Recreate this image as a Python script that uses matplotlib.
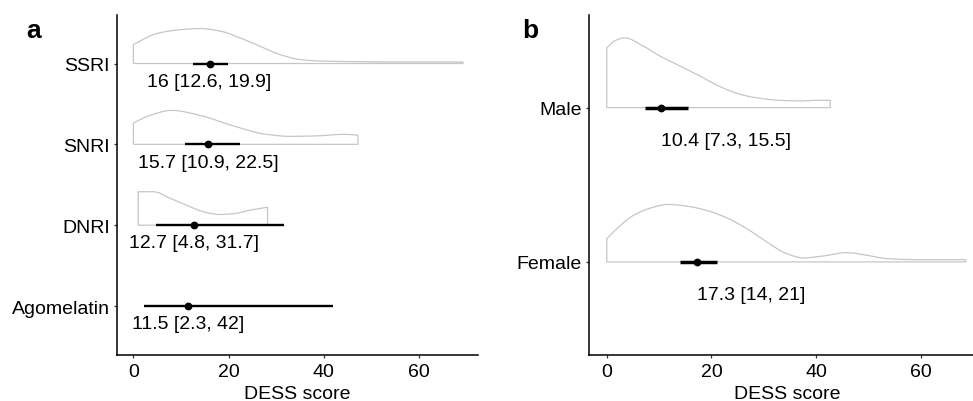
import numpy as np
import matplotlib
matplotlib.use("Agg")
import matplotlib.pyplot as plt

plt.rcParams['font.family'] = ['Liberation Sans', 'DejaVu Sans']

# ---------------- data ----------------
# Panel a: antidepressant classes
classes = ["SSRI", "SNRI", "DNRI", "Agomelatin"]
class_median = [16, 15.7, 12.7, 11.5]
class_low = [12.6, 10.9, 4.8, 2.3]
class_high = [19.9, 22.5, 31.7, 42]
class_labels = ["16 [12.6, 19.9]", "15.7 [10.9, 22.5]", "12.7 [4.8, 31.7]", "11.5 [2.3, 42]"]

# density outlines (x = DESS score, h = relative density height)
ssri_x = [0, 4.9, 9.1, 14, 18.2, 22.4, 26.6, 30.8, 35, 39.3, 45, 55, 69.3]
ssri_h = [19, 30, 33.5, 35, 32.5, 25.7, 17.3, 9, 4, 2.5, 2, 1.5, 1.5]
snri_x = [0, 3.5, 8, 14, 21, 28, 33, 38.6, 44.2, 47.2]
snri_h = [21.5, 29, 34, 29, 18.5, 10, 8, 8.5, 10, 9.3]
dnri_x = [1.0, 4.2, 7.7, 11.2, 14.7, 18.2, 21, 24.5, 28.2]
dnri_h = [33.5, 33.5, 27, 20, 13.5, 10.7, 11.5, 15, 18]

# Panel b: sex
sexes = ["Male", "Female"]
sex_median = [10.4, 17.3]
sex_low = [7.3, 14]
sex_high = [15.5, 21]
sex_labels = ["10.4 [7.3, 15.5]", "17.3 [14, 21]"]

male_x = [0, 1.5, 3.4, 7, 10.2, 14, 17.8, 21.7, 25.5, 29.3, 33.1, 37, 40.1, 42.7]
male_h = [60, 67, 70, 61.7, 51.7, 41.7, 31.7, 21, 13.3, 9.3, 7.3, 6.7, 7.3, 7.3]
female_x = [0, 1.9, 5.1, 8.3, 11.8, 15.3, 19.1, 22.9, 26.8, 30.6, 34.4, 37.6, 41.4, 45.9, 49.7, 53.5, 59.2, 68.6]
female_h = [23.3, 33.3, 46.7, 54, 57.7, 56, 51.7, 44.3, 33.3, 20, 8.3, 4, 6, 9.3, 6.7, 3.3, 2.3, 2.3]

XMIN, XMAX = 0, 69
xticks = [0, 20, 40, 60]
xlabel = "DESS score"


# ---------------- helpers ----------------
def pchip(x, y, xs):
    x = np.asarray(x, float)
    y = np.asarray(y, float)
    n = len(x)
    h = np.diff(x)
    d = np.diff(y) / h
    m = np.zeros(n)
    m[0] = d[0]
    m[-1] = d[-1]
    for k in range(1, n - 1):
        if d[k - 1] * d[k] <= 0:
            m[k] = 0.0
        else:
            w1 = 2 * h[k] + h[k - 1]
            w2 = h[k] + 2 * h[k - 1]
            m[k] = (w1 + w2) / (w1 / d[k - 1] + w2 / d[k])
    idx = np.clip(np.searchsorted(x, xs) - 1, 0, n - 2)
    t = (xs - x[idx]) / h[idx]
    h00 = 2 * t**3 - 3 * t**2 + 1
    h10 = t**3 - 2 * t**2 + t
    h01 = -2 * t**3 + 3 * t**2
    h11 = t**3 - t**2
    return h00 * y[idx] + h10 * h[idx] * m[idx] + h01 * y[idx + 1] + h11 * h[idx] * m[idx + 1]


def half_violin(ax, x, h, base, scale):
    xs = np.linspace(x[0], x[-1], 300)
    hs = pchip(x, h, xs) / scale
    px = np.concatenate([[x[0]], xs, [x[-1]]])
    py = np.concatenate([[base], base + hs, [base]])
    ax.fill(px, py, facecolor="white", edgecolor="#c6c6c6", lw=0.9, zorder=2)


def style_axes(ax):
    for s in ["top", "right"]:
        ax.spines[s].set_visible(False)
    for s in ["left", "bottom"]:
        ax.spines[s].set_linewidth(1.1)
        ax.spines[s].set_color("black")
    ax.tick_params(axis="both", length=2.5, width=0.9, color="#333333",
                   labelsize=14, labelcolor="black")
    ax.tick_params(axis="y", pad=2.5)
    ax.tick_params(axis="x", pad=3.5)
    ax.set_xlim(XMIN - 0.05 * (XMAX - XMIN), XMAX + 0.05 * (XMAX - XMIN))
    ax.set_xticks(xticks)
    ax.set_xlabel(xlabel, fontsize=14, labelpad=3.5)


fig = plt.figure(figsize=(9.73, 4.02), dpi=100)

# ---------------- panel a ----------------
H = 402.0
W = 973.0
axa = fig.add_axes([117 / W, 1 - 355.5 / H, (478 - 117) / W, (355.5 - 16) / H])
ya = [4, 3, 2, 1]
dens_a = [(ssri_x, ssri_h), (snri_x, snri_h), (dnri_x, dnri_h), None]
for i, y in enumerate(ya):
    if dens_a[i] is not None:
        half_violin(axa, dens_a[i][0], dens_a[i][1], y, 81.0)
    axa.plot([class_low[i], class_high[i]], [y, y], color="black", lw=1.7,
             solid_capstyle="butt", zorder=3)
    axa.plot([class_median[i]], [y], "o", color="black", ms=4.6, zorder=4)
    axa.text(class_median[i], y - 0.22, class_labels[i], ha="center", va="center",
             fontsize=14, color="black")
axa.set_ylim(0.4, 4.6)
axa.set_yticks(ya)
axa.set_yticklabels(classes)
style_axes(axa)

# ---------------- panel b ----------------
axb = fig.add_axes([588.7 / W, 1 - 355.5 / H, (985.8 - 588.7) / W, (355.5 - 16) / H])
yb = [2, 1]
dens_b = [(male_x, male_h), (female_x, female_h)]
for i, y in enumerate(yb):
    half_violin(axb, dens_b[i][0], dens_b[i][1], y, 155.0)
    axb.plot([sex_low[i], sex_high[i]], [y, y], color="black", lw=2.5,
             solid_capstyle="butt", zorder=3)
    axb.plot([sex_median[i]], [y], "o", color="black", ms=4.6, zorder=4)
    axb.text(sex_median[i], y - 0.213, sex_labels[i], ha="left", va="center",
             fontsize=14, color="black")
axb.set_ylim(0.4, 2.6)
axb.set_yticks(yb)
axb.set_yticklabels(sexes)
style_axes(axb)

fig.text(26 / W, 1 - 38 / H, "a", fontsize=19, fontweight="bold", va="baseline", ha="left")
fig.text(522 / W, 1 - 38 / H, "b", fontsize=19, fontweight="bold", va="baseline", ha="left")

fig.savefig("out.png", dpi=100)
